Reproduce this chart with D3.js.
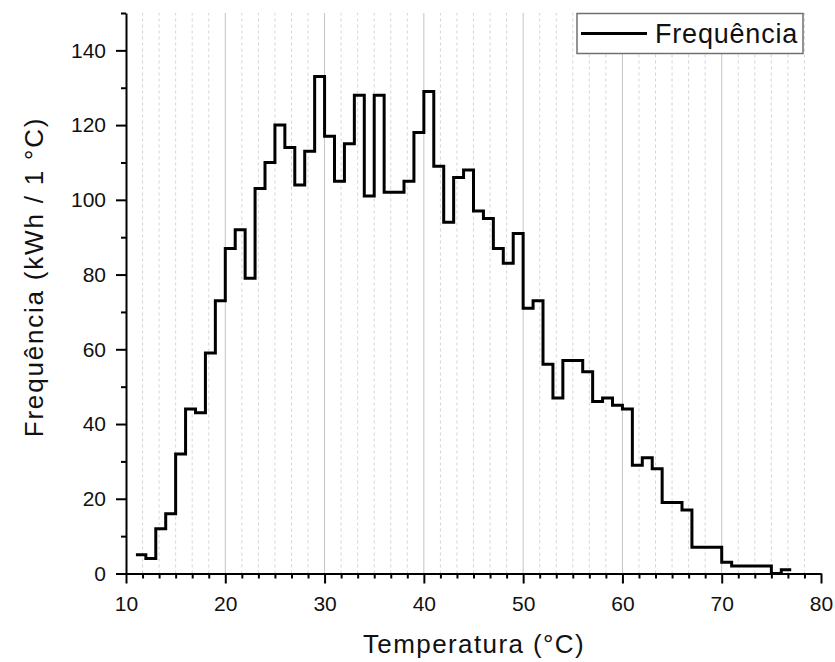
<!DOCTYPE html>
<html>
<head>
<meta charset="utf-8">
<script src="https://cdn.jsdelivr.net/npm/d3@7"></script>
<style>
  body { margin: 0; background: #fff; }
  svg { display: block; font-family: "Liberation Sans", Arial, sans-serif; }
</style>
</head>
<body>
<svg id="chart" width="835" height="662"></svg>
<script>
// Bin start temperatures (°C), one bin per degree
var temperatures = [11, 12, 13, 14, 15, 16, 17, 18, 19, 20,
  21, 22, 23, 24, 25, 26, 27, 28, 29, 30,
  31, 32, 33, 34, 35, 36, 37, 38, 39, 40,
  41, 42, 43, 44, 45, 46, 47, 48, 49, 50,
  51, 52, 53, 54, 55, 56, 57, 58, 59, 60,
  61, 62, 63, 64, 65, 66, 67, 68, 69, 70,
  71, 72, 73, 74, 75, 76];

// Frequency (kWh / 1 °C) per bin
var frequencies = [5, 4, 12, 16, 32, 44, 43, 59, 73, 87,
  92, 79, 103, 110, 120, 114, 104, 113, 133, 117,
  105, 115, 128, 101, 128, 102, 102, 105, 118, 129,
  109, 94, 106, 108, 97, 95, 87, 83, 91, 71,
  73, 56, 47, 57, 57, 54, 46, 47, 45, 44,
  29, 31, 28, 19, 19, 17, 7, 7, 7, 3,
  2, 2, 2, 2, 0, 1];

var xTicks = [10, 20, 30, 40, 50, 60, 70, 80];
var yTicks = [0, 20, 40, 60, 80, 100, 120, 140];
var yMinorTicks = [10, 30, 50, 70, 90, 110, 130, 150];

var binWidth = 1;

var svg = d3.select("#chart");

// scales
var x = d3.scaleLinear().domain([10, 80]).range([126, 821]);
var y = d3.scaleLinear().domain([0, 150]).range([573.5, 13]);

// minor x ticks: 5 between each major
var xMinorTicks = [];
xTicks.slice(0, -1).forEach(function(t) {
  for (var k = 1; k < 6; k++) xMinorTicks.push(t + k * 10 / 6);
});

// grid lines
svg.append("g").selectAll("line")
  .data(xMinorTicks)
  .enter().append("line")
  .attr("x1", function(d) { return x(d); })
  .attr("x2", function(d) { return x(d); })
  .attr("y1", y(0))
  .attr("y2", y(150))
  .attr("stroke", "#d4d4d4")
  .attr("stroke-width", 1)
  .attr("stroke-dasharray", "3,3");

svg.append("g").selectAll("line")
  .data(xTicks.slice(1, -1))
  .enter().append("line")
  .attr("x1", function(d) { return x(d); })
  .attr("x2", function(d) { return x(d); })
  .attr("y1", y(0))
  .attr("y2", y(150))
  .attr("stroke", "#c4c4c4")
  .attr("stroke-width", 1);

// step line (each bin drawn to its right edge)
var points = temperatures.map(function(t, i) { return [t, frequencies[i]]; });
points.push([temperatures[temperatures.length - 1] + binWidth, frequencies[frequencies.length - 1]]);

var line = d3.line()
  .x(function(d) { return x(d[0]); })
  .y(function(d) { return y(d[1]); })
  .curve(d3.curveStepAfter);

svg.append("path")
  .datum(points)
  .attr("d", line)
  .attr("fill", "none")
  .attr("stroke", "#000")
  .attr("stroke-width", 3)
  .attr("stroke-linejoin", "miter");

// axes
var xAxis = svg.append("g")
  .attr("transform", "translate(0," + y(0) + ")")
  .call(d3.axisBottom(x).tickValues(xTicks).tickSize(10).tickSizeOuter(0).tickPadding(13));
svg.append("g")
  .attr("transform", "translate(0," + y(0) + ")")
  .call(d3.axisBottom(x).tickValues(xMinorTicks).tickSize(5).tickSizeOuter(0).tickFormat(""))
  .select(".domain").remove();

var yAxis = svg.append("g")
  .attr("transform", "translate(" + x(10) + ",0)")
  .call(d3.axisLeft(y).tickValues(yTicks).tickSize(10).tickSizeOuter(0).tickPadding(10));
svg.append("g")
  .attr("transform", "translate(" + x(10) + ",0)")
  .call(d3.axisLeft(y).tickValues(yMinorTicks).tickSize(5).tickSizeOuter(0).tickFormat(""))
  .select(".domain").remove();

svg.selectAll(".domain").attr("stroke", "#000").attr("stroke-width", 2);
svg.selectAll(".tick line").attr("stroke", "#000").attr("stroke-width", 2);
svg.selectAll(".tick text")
  .attr("fill", "#111")
  .style("font-size", "21px")
  .style("font-family", "'Liberation Sans', Arial, sans-serif");

// axis titles
svg.append("text")
  .attr("x", 474)
  .attr("y", 653)
  .attr("text-anchor", "middle")
  .style("font-size", "26px")
  .style("letter-spacing", "1.4px")
  .attr("fill", "#111")
  .text("Temperatura (°C)");

svg.append("text")
  .attr("transform", "translate(43,277) rotate(-90)")
  .attr("text-anchor", "middle")
  .style("font-size", "26px")
  .style("letter-spacing", "1.8px")
  .attr("fill", "#111")
  .text("Frequência (kWh / 1 °C)");

// legend
var legend = svg.append("g");
legend.append("rect")
  .attr("x", 577)
  .attr("y", 13.5)
  .attr("width", 226)
  .attr("height", 40)
  .attr("fill", "#fff")
  .attr("stroke", "#707070")
  .attr("stroke-width", 1.5);
legend.append("line")
  .attr("x1", 581)
  .attr("x2", 647)
  .attr("y1", 33.5)
  .attr("y2", 33.5)
  .attr("stroke", "#000")
  .attr("stroke-width", 3);
legend.append("text")
  .attr("x", 655)
  .attr("y", 42.7)
  .style("font-size", "27px")
  .style("letter-spacing", "0.8px")
  .attr("fill", "#111")
  .text("Frequência");
</script>
</body>
</html>
